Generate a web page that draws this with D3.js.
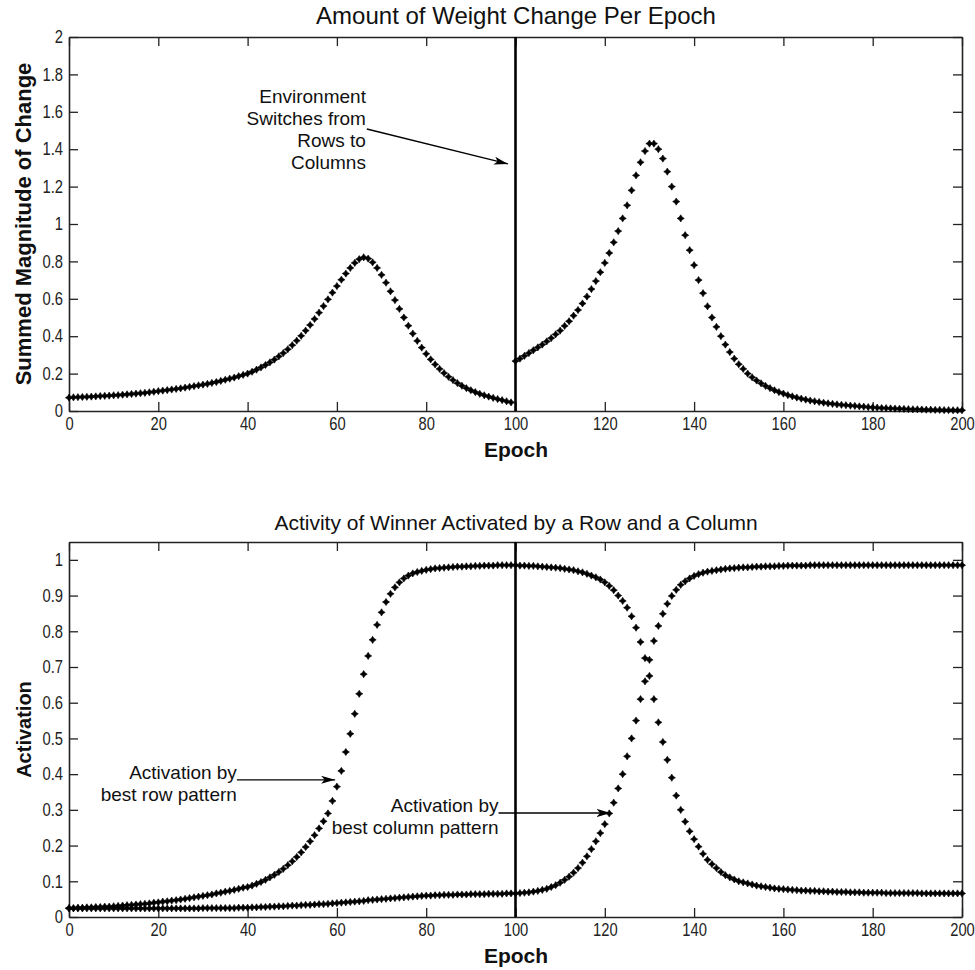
<!DOCTYPE html>
<html>
<head>
<meta charset="utf-8">
<script src="https://cdn.jsdelivr.net/npm/d3@7"></script>
<style>
  body { margin: 0; background: #fff; }
  svg { display: block; }
  text { font-family: "Liberation Sans", Arial, sans-serif; fill: #111; }
  .tick text { font-family: "Liberation Sans", Arial, sans-serif; font-size: 18px; fill: #222; }
</style>
</head>
<body>
<script>
// ---- Weight change per epoch, before the environment switch (epochs 0-99)
const changeRows = [
  0.071,0.073,0.074,0.075,0.076,0.077,0.078,0.080,0.081,0.082,
  0.084,0.085,0.087,0.089,0.091,0.093,0.095,0.097,0.100,0.103,
  0.106,0.109,0.112,0.115,0.118,0.121,0.125,0.129,0.133,0.137,
  0.141,0.145,0.150,0.155,0.161,0.167,0.173,0.179,0.186,0.193,
  0.200,0.210,0.221,0.233,0.246,0.260,0.275,0.292,0.310,0.330,
  0.352,0.376,0.402,0.430,0.460,0.492,0.526,0.561,0.597,0.633,
  0.668,0.702,0.735,0.765,0.792,0.812,0.822,0.815,0.795,0.765,
  0.728,0.686,0.640,0.593,0.546,0.500,0.456,0.414,0.375,0.339,
  0.306,0.276,0.249,0.225,0.203,0.183,0.165,0.149,0.135,0.122,
  0.111,0.101,0.092,0.084,0.077,0.070,0.064,0.058,0.052,0.046
];
// ---- Weight change per epoch, after the switch (epochs 100-200)
const changeColumns = [
  0.267,0.280,0.295,0.310,0.325,0.340,0.355,0.372,0.390,0.410,
  0.430,0.455,0.480,0.510,0.540,0.575,0.612,0.652,0.695,0.742,
  0.792,0.845,0.902,0.962,1.030,1.100,1.180,1.260,1.330,1.390,
  1.430,1.430,1.400,1.350,1.280,1.200,1.120,1.030,0.940,0.860,
  0.780,0.700,0.630,0.560,0.500,0.450,0.400,0.355,0.315,0.280,
  0.250,0.225,0.200,0.180,0.163,0.148,0.134,0.122,0.111,0.101,
  0.093,0.085,0.078,0.072,0.066,0.061,0.056,0.052,0.048,0.044,
  0.041,0.038,0.035,0.033,0.031,0.029,0.027,0.025,0.023,0.021,
  0.019,0.018,0.016,0.015,0.014,0.013,0.012,0.011,0.010,0.009,
  0.009,0.008,0.007,0.007,0.006,0.006,0.005,0.005,0.004,0.004,
  0.004
];
// ---- Winner activation for the best row pattern (epochs 0-200)
const activationRow = [
  0.025,0.025,0.026,0.026,0.027,0.027,0.028,0.028,0.029,0.029,
  0.030,0.031,0.032,0.033,0.034,0.035,0.036,0.037,0.038,0.040,
  0.041,0.043,0.044,0.046,0.047,0.049,0.051,0.053,0.055,0.057,
  0.059,0.061,0.063,0.066,0.068,0.071,0.073,0.076,0.079,0.082,
  0.084,0.088,0.093,0.098,0.104,0.111,0.118,0.126,0.135,0.145,
  0.156,0.168,0.181,0.196,0.212,0.229,0.248,0.268,0.290,0.325,
  0.365,0.409,0.462,0.513,0.569,0.625,0.680,0.731,0.776,0.818,
  0.853,0.882,0.905,0.923,0.937,0.948,0.956,0.962,0.966,0.969,
  0.972,0.974,0.976,0.977,0.978,0.979,0.980,0.981,0.981,0.982,
  0.982,0.983,0.983,0.984,0.984,0.984,0.985,0.985,0.985,0.985,
  0.985,0.984,0.984,0.983,0.983,0.982,0.981,0.980,0.979,0.978,
  0.977,0.975,0.973,0.971,0.968,0.965,0.961,0.956,0.951,0.945,
  0.937,0.927,0.915,0.900,0.885,0.866,0.842,0.810,0.770,0.725,
  0.675,0.610,0.545,0.490,0.440,0.390,0.340,0.300,0.267,0.240,
  0.218,0.197,0.177,0.160,0.148,0.137,0.126,0.117,0.111,0.105,
  0.100,0.097,0.094,0.091,0.088,0.086,0.084,0.082,0.080,0.079,
  0.078,0.077,0.076,0.075,0.074,0.074,0.073,0.073,0.072,0.072,
  0.071,0.071,0.070,0.070,0.070,0.069,0.069,0.069,0.068,0.068,
  0.068,0.068,0.068,0.067,0.067,0.067,0.067,0.067,0.067,0.067,
  0.067,0.066,0.066,0.066,0.066,0.066,0.066,0.066,0.066,0.066,
  0.066
];
// ---- Winner activation for the best column pattern (epochs 0-200)
const activationColumn = [
  0.024,0.024,0.024,0.024,0.024,0.024,0.024,0.024,0.024,0.024,
  0.024,0.024,0.024,0.024,0.024,0.024,0.024,0.024,0.024,0.024,
  0.024,0.024,0.024,0.024,0.024,0.024,0.024,0.024,0.024,0.024,
  0.025,0.025,0.025,0.025,0.025,0.025,0.025,0.025,0.026,0.026,
  0.026,0.027,0.027,0.028,0.028,0.029,0.029,0.030,0.030,0.031,
  0.032,0.032,0.033,0.034,0.034,0.035,0.036,0.036,0.037,0.038,
  0.039,0.040,0.041,0.042,0.043,0.044,0.045,0.047,0.048,0.049,
  0.050,0.051,0.052,0.053,0.054,0.055,0.056,0.057,0.058,0.059,
  0.060,0.060,0.061,0.061,0.062,0.062,0.062,0.063,0.063,0.063,
  0.064,0.064,0.064,0.064,0.065,0.065,0.065,0.065,0.066,0.066,
  0.066,0.067,0.068,0.069,0.071,0.073,0.076,0.079,0.084,0.089,
  0.096,0.104,0.113,0.124,0.137,0.152,0.170,0.190,0.212,0.235,
  0.260,0.290,0.320,0.360,0.400,0.450,0.500,0.550,0.610,0.660,
  0.720,0.773,0.815,0.849,0.877,0.899,0.916,0.930,0.940,0.948,
  0.955,0.960,0.964,0.967,0.969,0.971,0.973,0.975,0.976,0.977,
  0.978,0.979,0.979,0.980,0.981,0.981,0.982,0.982,0.982,0.983,
  0.983,0.984,0.984,0.984,0.984,0.984,0.985,0.985,0.985,0.985,
  0.985,0.985,0.985,0.985,0.985,0.985,0.985,0.985,0.985,0.985,
  0.985,0.985,0.985,0.985,0.985,0.985,0.985,0.985,0.985,0.985,
  0.985,0.985,0.985,0.985,0.985,0.985,0.985,0.985,0.985,0.985,
  0.985
];

const switchEpoch = 100;
const xTicks = [0, 20, 40, 60, 80, 100, 120, 140, 160, 180, 200];
const yTicksChange = [0, 0.2, 0.4, 0.6, 0.8, 1, 1.2, 1.4, 1.6, 1.8, 2];
const yTicksActivation = [0, 0.1, 0.2, 0.3, 0.4, 0.5, 0.6, 0.7, 0.8, 0.9, 1];

const W = 975, H = 970;
const svg = d3.select("body").append("svg").attr("width", W).attr("height", H);

// arrowhead used by the annotations
svg.append("defs").append("marker")
  .attr("id", "head").attr("viewBox", "0 0 14 8")
  .attr("refX", 14).attr("refY", 4)
  .attr("markerWidth", 14).attr("markerHeight", 8)
  .attr("markerUnits", "userSpaceOnUse").attr("orient", "auto")
  .append("path").attr("d", "M0,0L14,4L0,8L3.5,4Z").attr("fill", "#000");

const x = d3.scaleLinear().domain([0, 200]).range([69, 962]);
const yChange = d3.scaleLinear().domain([0, 2]).range([411, 37]);
const yAct = d3.scaleLinear().domain([0, 1.05]).range([917, 542]);

// four-pointed filled marker
const star = "M0,-3.6L1.4,-1.4L3.6,0L1.4,1.4L0,3.6L-1.4,1.4L-3.6,0L-1.4,-1.4Z";
const squeeze = 0.82; // tick labels use a condensed face

function frame(y, yTicks, fmt) {
  const g = svg.append("g");
  const [y0, y1] = y.range();
  const tickLen = -9;
  g.append("g").attr("class", "xb").attr("transform", `translate(0,${y0})`)
    .call(d3.axisBottom(x).tickValues(xTicks).tickSize(tickLen).tickSizeOuter(0).tickPadding(6));
  g.append("g").attr("transform", `translate(0,${y1})`)
    .call(d3.axisTop(x).tickValues(xTicks).tickSize(tickLen).tickSizeOuter(0).tickFormat(""));
  g.append("g").attr("class", "yl").attr("transform", `translate(${x.range()[0]},0)`)
    .call(d3.axisLeft(y).tickValues(yTicks).tickSize(tickLen).tickSizeOuter(0).tickPadding(6).tickFormat(fmt));
  g.append("g").attr("transform", `translate(${x.range()[1]},0)`)
    .call(d3.axisRight(y).tickValues(yTicks).tickSize(tickLen).tickSizeOuter(0).tickFormat(""));
  g.selectAll(".domain").attr("stroke", "#222").attr("stroke-width", 1.6);
  g.selectAll(".tick line").attr("stroke", "#222").attr("stroke-width", 1.3);
  g.selectAll(".tick text").attr("font-size", null).attr("font-family", null);
  g.selectAll(".xb .tick text").attr("transform", `scale(${squeeze},1)`);
  g.selectAll(".yl .tick text").attr("x", -6 / squeeze).attr("transform", `scale(${squeeze},1)`);
  return g;
}

function dots(values, firstEpoch, y) {
  svg.append("g").selectAll("path")
    .data(values)
    .join("path")
    .attr("d", star)
    .attr("transform", (v, i) => `translate(${x(firstEpoch + i)},${y(v)})`)
    .attr("fill", "#000").attr("stroke", "#000").attr("stroke-width", 0.6);
}

function fmtNum(d) { return d3.format("~g")(d); }

// ================= Top panel =================
frame(yChange, yTicksChange, fmtNum);
svg.append("line")
  .attr("x1", x(switchEpoch)).attr("x2", x(switchEpoch))
  .attr("y1", yChange(0)).attr("y2", yChange(2))
  .attr("stroke", "#000").attr("stroke-width", 2.6);
dots(changeRows, 0, yChange);
dots(changeColumns, switchEpoch, yChange);

svg.append("text").attr("x", 516).attr("y", 24).attr("text-anchor", "middle")
  .attr("font-size", 24).text("Amount of Weight Change Per Epoch");
svg.append("text").attr("x", 516).attr("y", 457).attr("text-anchor", "middle")
  .attr("font-size", 21).attr("font-weight", "bold").text("Epoch");
svg.append("text")
  .attr("transform", `translate(31,${(yChange(0) + yChange(2)) / 2}) rotate(-90)`)
  .attr("text-anchor", "middle").attr("font-size", 22).attr("font-weight", "bold")
  .text("Summed Magnitude of Change");

const noteLines = ["Environment", "Switches from", "Rows to", "Columns"];
const noteBase = [1.647, 1.529, 1.412, 1.294];
svg.append("g").selectAll("text").data(noteLines).join("text")
  .attr("x", x(66.5)).attr("y", (d, i) => yChange(noteBase[i]))
  .attr("text-anchor", "end").attr("font-size", 19).text(d => d);
svg.append("line")
  .attr("x1", x(66.7)).attr("y1", yChange(1.508))
  .attr("x2", x(98.3)).attr("y2", yChange(1.321))
  .attr("stroke", "#000").attr("stroke-width", 1.3).attr("marker-end", "url(#head)");

// ================= Bottom panel =================
frame(yAct, yTicksActivation, fmtNum);
svg.append("line")
  .attr("x1", x(switchEpoch)).attr("x2", x(switchEpoch))
  .attr("y1", yAct(0)).attr("y2", yAct(1.05))
  .attr("stroke", "#000").attr("stroke-width", 2.6);
dots(activationRow, 0, yAct);
dots(activationColumn, 0, yAct);

svg.append("text").attr("x", 516).attr("y", 530).attr("text-anchor", "middle")
  .attr("font-size", 21).text("Activity of Winner Activated by a Row and a Column");
svg.append("text").attr("x", 516).attr("y", 963).attr("text-anchor", "middle")
  .attr("font-size", 21).attr("font-weight", "bold").text("Epoch");
svg.append("text")
  .attr("transform", `translate(31,${(yAct(0) + yAct(1.05)) / 2}) rotate(-90)`)
  .attr("text-anchor", "middle").attr("font-size", 20).attr("font-weight", "bold")
  .text("Activation");

function callout(lines, epochText, valueBase, epochTip) {
  const g = svg.append("g");
  g.selectAll("text").data(lines).join("text")
    .attr("x", x(epochText)).attr("y", (d, i) => yAct(valueBase) + i * 22)
    .attr("text-anchor", "end").attr("font-size", 19).text(d => d);
  g.append("line")
    .attr("x1", x(epochText)).attr("y1", yAct(valueBase) + 1)
    .attr("x2", x(epochTip)).attr("y2", yAct(valueBase) + 1)
    .attr("stroke", "#000").attr("stroke-width", 1.3).attr("marker-end", "url(#head)");
}
callout(["Activation by", "best row pattern"], 37.6, 0.387, 59.6);
callout(["Activation by", "best column pattern"], 96.2, 0.294, 121.3);
</script>
</body>
</html>
